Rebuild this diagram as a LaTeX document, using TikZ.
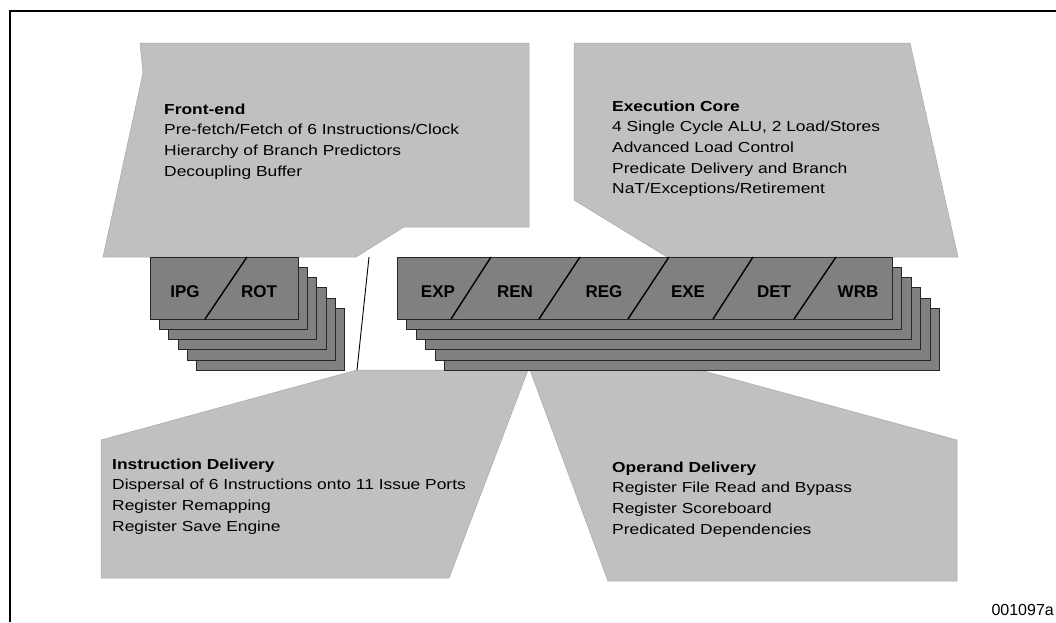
\documentclass[tikz,border=0pt]{standalone}
\usepackage{fontspec}
\setmainfont{Liberation Sans}
\newfontfamily\blockfont[FakeStretch=1.2]{Liberation Sans}
\definecolor{panelgray}{HTML}{C0C0C0}
\definecolor{stagegray}{HTML}{808080}
\begin{document}
\begin{tikzpicture}[x=1pt,y=-1pt,
  frame/.style={draw=black, line width=1.6pt},
  panel/.style={fill=panelgray, draw=panelgray!88!black, line width=0.5pt},
  stagebox/.style={fill=stagegray, draw=black!85, line width=0.8pt},
  divider/.style={draw=black, line width=1.4pt},
  sepline/.style={draw=black, line width=0.9pt},
  stagelabel/.style={font=\fontsize{17}{20}\selectfont\bfseries, inner sep=0pt, anchor=base},
  blocktext/.style={font=\blockfont\fontsize{14.5}{20.7}\selectfont, inner sep=0pt, anchor=base west},
  figid/.style={font=\fontsize{16}{18}\selectfont, inner sep=0pt, anchor=base east}
]
\useasboundingbox (0,0) rectangle (1056,622);
\fill[white] (0,0) rectangle (1056,622);
\draw[frame] (10,622) -- (10,11) -- (1057,11);

% panels
\draw[panel] (140,43) -- (529,43) -- (529,227) -- (404,227) -- (356,257) -- (103,257) -- (143,73) -- cycle;
\draw[panel] (574,43) -- (910,43) -- (958,257) -- (667,257) -- (574,200) -- cycle;
\draw[panel] (357,370) -- (528,370) -- (449,578) -- (101,578) -- (101,440) -- cycle;
\draw[panel] (530,370) -- (700,370) -- (957,440) -- (957,581) -- (608,581) -- cycle;

% separator
\coordinate (sepTop) at (369,257);
\coordinate (sepBot) at (357,370);
\draw[sepline] (sepTop) -- (sepBot);

% left stack
\foreach \k in {5,4,3,2,1}
  \draw[stagebox] ({150+9.3*\k},{257+10.25*\k}) rectangle ++(148,62);
\draw[stagebox] (150,257) rectangle ++(148,62);
\draw[divider] (247,257) -- (205,319);

% right stack
\foreach \k in {5,4,3,2,1}
  \draw[stagebox] ({397+9.5*\k},{257+10.25*\k}) rectangle ++(495,62);
\draw[stagebox] (397,257) rectangle ++(495,62);
\draw[divider] (491,257) -- (451,319);
\draw[divider] (580,257) -- (539,319);
\draw[divider] (669,257) -- (628,319);
\draw[divider] (753,257) -- (713,319);
\draw[divider] (836,257) -- (794,319);

% stage labels
\node[stagelabel] (ipg) at (185,297) {IPG};
\node[stagelabel] (rot) at (259,297) {ROT};
\node[stagelabel] (exp) at (438,297) {EXP};
\node[stagelabel] (ren) at (515,297) {REN};
\node[stagelabel] (reg) at (604,297) {REG};
\node[stagelabel] (exe) at (688,297) {EXE};
\node[stagelabel] (det) at (774,297) {DET};
\node[stagelabel] (wrb) at (858,297) {WRB};

% panel texts
\node[blocktext] (frontend) at (164,114) {\begin{tabular}[t]{@{}l@{}}\textbf{Front-end}\\Pre-fetch/Fetch of 6 Instructions/Clock\\Hierarchy of Branch Predictors\\Decoupling Buffer\end{tabular}};
\node[blocktext] (execcore) at (612,111) {\begin{tabular}[t]{@{}l@{}}\textbf{Execution Core}\\4 Single Cycle ALU, 2 Load/Stores\\Advanced Load Control\\Predicate Delivery and Branch\\NaT/Exceptions/Retirement\end{tabular}};
\node[blocktext] (instrdel) at (112,469) {\begin{tabular}[t]{@{}l@{}}\textbf{Instruction Delivery}\\Dispersal of 6 Instructions onto 11 Issue Ports\\Register Remapping\\Register Save Engine\end{tabular}};
\node[blocktext] (operdel) at (612,472) {\begin{tabular}[t]{@{}l@{}}\textbf{Operand Delivery}\\Register File Read and Bypass\\Register Scoreboard\\Predicated Dependencies\end{tabular}};

\node[figid] (figid) at (1054,615) {001097a};
\end{tikzpicture}
\end{document}
